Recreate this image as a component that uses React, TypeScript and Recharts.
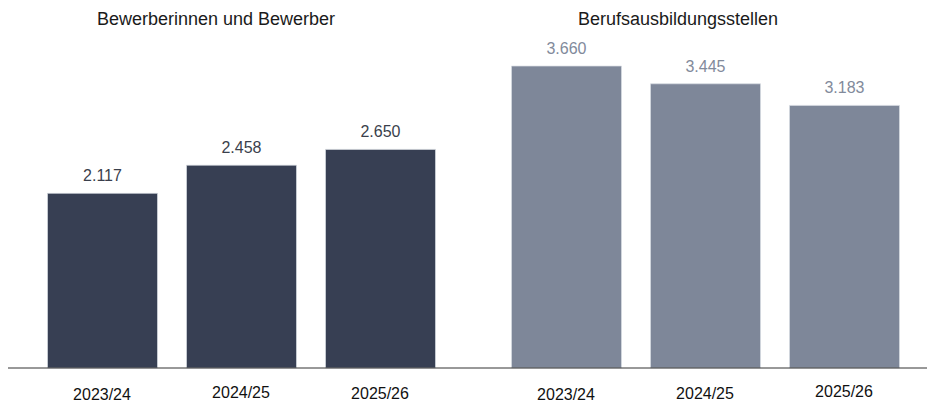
import { Bar, BarChart, LabelList, XAxis, YAxis } from "recharts";

const seasons = ["2023/24", "2024/25", "2025/26"];
const applicants = [2117, 2458, 2650];
const trainingPlaces = [3660, 3445, 3183];
const titles = ["Bewerberinnen und Bewerber", "Berufsausbildungsstellen"];

// small vertical offsets of the season labels, as in the original
const leftTickNudge = [29.5, 28, 28.5];
const rightTickNudge = [29.5, 28.5, 27];

const FONT = '"Liberation Sans", Arial, Helvetica, sans-serif';
const DARK = "#373f53";
const LIGHT = "#7e8799";

const fmt = (v: number) => String(v).replace(/\B(?=(\d{3})+(?!\d))/g, ".");

function SeasonTick(props: any) {
  const { x, y, payload, index, nudges } = props;
  return (
    <text
      x={x}
      y={y + (nudges[index] ?? 29)}
      textAnchor="middle"
      fontSize={16}
      fontFamily={FONT}
      fill="#111"
    >
      {payload.value}
    </text>
  );
}

interface GroupProps {
  values: number[];
  color: string;
  labelColor: string;
  width: number;
  left: number;
  margin: { top: number; right: number; bottom: number; left: number };
  padding: { left: number; right: number };
  nudges: number[];
}

function GroupChart({ values, color, labelColor, width, left, margin, padding, nudges }: GroupProps) {
  const data = seasons.map((s, i) => ({ season: s, value: values[i] }));
  return (
    <div style={{ position: "absolute", left, top: 0 }}>
      <BarChart width={width} height={401} data={data} margin={margin}>
        <XAxis
          dataKey="season"
          height={33}
          padding={padding}
          tickLine={false}
          tickSize={0}
          axisLine={{ stroke: "#333", strokeWidth: 1 }}
          tick={<SeasonTick nudges={nudges} />}
          interval={0}
        />
        <YAxis hide domain={[0, 4000]} />
        <Bar
          dataKey="value"
          fill={color}
          barSize={110}
          stroke="#d9dce2"
          strokeWidth={0.7}
          isAnimationActive={false}
        >
          <LabelList
            dataKey="value"
            position="top"
            offset={12}
            formatter={(v: any) => fmt(Number(v))}
            fontSize={16}
            fontFamily={FONT}
            fill={labelColor}
          />
        </Bar>
      </BarChart>
    </div>
  );
}

export default function App() {
  const titleStyle = {
    position: "absolute" as const,
    top: 26,
    transform: "translate(-50%, -80%)",
    fontFamily: FONT,
    fontSize: 18,
    color: "#1a1a1a",
    whiteSpace: "nowrap" as const,
  };
  return (
    <div
      style={{
        position: "fixed",
        left: 0,
        top: 0,
        width: 927,
        height: 401,
        background: "#fff",
        overflow: "hidden",
      }}
    >
      <GroupChart
        values={applicants}
        color={DARK}
        labelColor="#3a3f4c"
        width={464}
        left={0}
        margin={{ top: 38, right: 0, bottom: 0, left: 8 }}
        padding={{ left: 24.5, right: 14.5 }}
        nudges={leftTickNudge}
      />
      <GroupChart
        values={trainingPlaces}
        color={LIGHT}
        labelColor="#828a9b"
        width={463}
        left={464}
        margin={{ top: 38, right: 0, bottom: 0, left: 0 }}
        padding={{ left: 32.5, right: 13.5 }}
        nudges={rightTickNudge}
      />
      <div style={{ ...titleStyle, left: 216 }}>{titles[0]}</div>
      <div style={{ ...titleStyle, left: 678 }}>{titles[1]}</div>
    </div>
  );
}
